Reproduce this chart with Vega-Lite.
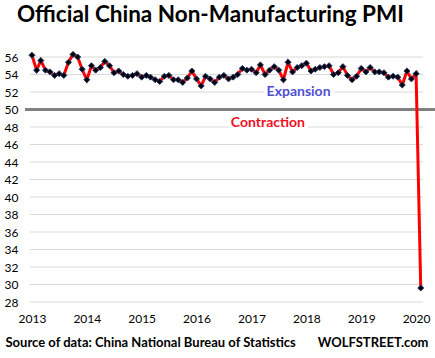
{
  "$schema": "https://vega.github.io/schema/vega-lite/v6.json",
  "width": 393,
  "height": 245,
  "autosize": {"type": "none"},
  "padding": {"left": 30, "top": 57, "right": 12, "bottom": 56},
  "background": "white",
  "config": {
    "view": {"stroke": null},
    "font": "Lato",
    "axis": {"ticks": false, "domain": false, "grid": false, "labelOverlap": false, "labelColor": "#000000", "labelFont": "Lato", "labelFontSize": 12, "titleColor": "#000000", "titleFont": "Lato", "titleFontSize": 13, "titleFontWeight": "bold"},
    "axisY": {"tickCount": 15}
  },
  "title": {"text": "Official China  Non-Manufacturing  PMI", "anchor": "start", "frame": "group", "dx": -13, "offset": 22, "font": "Lato", "fontSize": 22.5, "fontWeight": "bold", "color": "#000000"},
  "datasets": {
    "levels": [{"g": 28}, {"g": 30}, {"g": 32}, {"g": 34}, {"g": 36}, {"g": 38}, {"g": 40}, {"g": 42}, {"g": 44}, {"g": 46}, {"g": 48}, {"g": 52}, {"g": 54}, {"g": 56}],
    "notes": [{"date": "2017-11-10", "value": 52, "label": "Expansion"}, {"date": "2017-04-20", "value": 48.5, "label": "Contraction"}]
  },
  "data": {"values": [
    {"date": "2013-01-01", "pmi": 56.2}, {"date": "2013-02-01", "pmi": 54.5}, {"date": "2013-03-01", "pmi": 55.6}, {"date": "2013-04-01", "pmi": 54.5}, {"date": "2013-05-01", "pmi": 54.3}, {"date": "2013-06-01", "pmi": 53.9}, {"date": "2013-07-01", "pmi": 54.1}, {"date": "2013-08-01", "pmi": 53.9}, {"date": "2013-09-01", "pmi": 55.4}, {"date": "2013-10-01", "pmi": 56.3}, {"date": "2013-11-01", "pmi": 56.0}, {"date": "2013-12-01", "pmi": 54.6},
    {"date": "2014-01-01", "pmi": 53.4}, {"date": "2014-02-01", "pmi": 55.0}, {"date": "2014-03-01", "pmi": 54.5}, {"date": "2014-04-01", "pmi": 54.8}, {"date": "2014-05-01", "pmi": 55.5}, {"date": "2014-06-01", "pmi": 55.0}, {"date": "2014-07-01", "pmi": 54.2}, {"date": "2014-08-01", "pmi": 54.4}, {"date": "2014-09-01", "pmi": 54.0}, {"date": "2014-10-01", "pmi": 53.8}, {"date": "2014-11-01", "pmi": 53.9}, {"date": "2014-12-01", "pmi": 54.1},
    {"date": "2015-01-01", "pmi": 53.7}, {"date": "2015-02-01", "pmi": 53.9}, {"date": "2015-03-01", "pmi": 53.7}, {"date": "2015-04-01", "pmi": 53.4}, {"date": "2015-05-01", "pmi": 53.2}, {"date": "2015-06-01", "pmi": 53.8}, {"date": "2015-07-01", "pmi": 53.9}, {"date": "2015-08-01", "pmi": 53.4}, {"date": "2015-09-01", "pmi": 53.4}, {"date": "2015-10-01", "pmi": 53.1}, {"date": "2015-11-01", "pmi": 53.6}, {"date": "2015-12-01", "pmi": 54.4},
    {"date": "2016-01-01", "pmi": 53.5}, {"date": "2016-02-01", "pmi": 52.7}, {"date": "2016-03-01", "pmi": 53.8}, {"date": "2016-04-01", "pmi": 53.5}, {"date": "2016-05-01", "pmi": 53.1}, {"date": "2016-06-01", "pmi": 53.7}, {"date": "2016-07-01", "pmi": 53.9}, {"date": "2016-08-01", "pmi": 53.5}, {"date": "2016-09-01", "pmi": 53.7}, {"date": "2016-10-01", "pmi": 54.0}, {"date": "2016-11-01", "pmi": 54.7}, {"date": "2016-12-01", "pmi": 54.5},
    {"date": "2017-01-01", "pmi": 54.6}, {"date": "2017-02-01", "pmi": 54.2}, {"date": "2017-03-01", "pmi": 55.1}, {"date": "2017-04-01", "pmi": 54.0}, {"date": "2017-05-01", "pmi": 54.5}, {"date": "2017-06-01", "pmi": 54.9}, {"date": "2017-07-01", "pmi": 54.5}, {"date": "2017-08-01", "pmi": 53.4}, {"date": "2017-09-01", "pmi": 55.4}, {"date": "2017-10-01", "pmi": 54.3}, {"date": "2017-11-01", "pmi": 54.8}, {"date": "2017-12-01", "pmi": 55.0},
    {"date": "2018-01-01", "pmi": 55.3}, {"date": "2018-02-01", "pmi": 54.4}, {"date": "2018-03-01", "pmi": 54.6}, {"date": "2018-04-01", "pmi": 54.8}, {"date": "2018-05-01", "pmi": 54.9}, {"date": "2018-06-01", "pmi": 55.0}, {"date": "2018-07-01", "pmi": 54.0}, {"date": "2018-08-01", "pmi": 54.2}, {"date": "2018-09-01", "pmi": 54.9}, {"date": "2018-10-01", "pmi": 53.9}, {"date": "2018-11-01", "pmi": 53.4}, {"date": "2018-12-01", "pmi": 53.8},
    {"date": "2019-01-01", "pmi": 54.7}, {"date": "2019-02-01", "pmi": 54.3}, {"date": "2019-03-01", "pmi": 54.8}, {"date": "2019-04-01", "pmi": 54.3}, {"date": "2019-05-01", "pmi": 54.3}, {"date": "2019-06-01", "pmi": 54.2}, {"date": "2019-07-01", "pmi": 53.7}, {"date": "2019-08-01", "pmi": 53.8}, {"date": "2019-09-01", "pmi": 53.7}, {"date": "2019-10-01", "pmi": 52.8}, {"date": "2019-11-01", "pmi": 54.4}, {"date": "2019-12-01", "pmi": 53.5},
    {"date": "2020-01-01", "pmi": 54.1}, {"date": "2020-02-01", "pmi": 29.6}
  ]},
  "layer": [
    {
      "mark": {"type": "line", "opacity": 0},
      "encoding": {
        "x": {"field": "date", "type": "temporal", "scale": {"domain": [{"year": 2012, "month": 12, "date": 19}, {"year": 2020, "month": 2, "date": 16}]},
          "axis": {"values": [{"year": 2013, "month": 1, "date": 1}, {"year": 2014, "month": 1, "date": 1}, {"year": 2015, "month": 1, "date": 1}, {"year": 2016, "month": 1, "date": 1}, {"year": 2017, "month": 1, "date": 1}, {"year": 2018, "month": 1, "date": 1}, {"year": 2019, "month": 1, "date": 1}, {"year": 2020, "month": 1, "date": 1}],
            "format": "%Y", "labelPadding": 11, "tickCount": 8,
            "title": "Source of data: China National Bureau of Statistics", "titleAnchor": "start", "titleAlign": "left", "titleX": -25, "titleY": 44, "titleBaseline": "alphabetic"}},
        "y": {"field": "pmi", "type": "quantitative", "scale": {"domain": [28, 56], "nice": false, "zero": false},
          "axis": {"values": [28, 30, 32, 34, 36, 38, 40, 42, 44, 46, 48, 50, 52, 54, 56], "tickCount": 15, "labelPadding": 12, "grid": false,
            "title": "WOLFSTREET.com", "titleAngle": 0, "titleX": 398, "titleY": 289, "titleAlign": "right", "titleBaseline": "alphabetic"}}
      }
    },
    {
      "data": {"name": "levels"},
      "mark": {"type": "rect", "fill": "#d9d9d9", "stroke": "#d9d9d9", "strokeWidth": 1.2},
      "encoding": {
        "x": {"datum": {"year": 2012, "month": 12, "date": 19}, "type": "temporal"},
        "x2": {"datum": {"year": 2020, "month": 2, "date": 16}},
        "y": {"field": "g", "type": "quantitative"},
        "y2": {"field": "g"}
      }
    },
    {
      "mark": {"type": "rect", "fill": "#808080", "stroke": "#808080", "strokeWidth": 3},
      "encoding": {
        "x": {"datum": {"year": 2012, "month": 11, "date": 16}, "type": "temporal"},
        "x2": {"datum": {"year": 2020, "month": 5, "date": 6}},
        "y": {"datum": 50, "type": "quantitative"},
        "y2": {"datum": 50}
      }
    },
    {
      "mark": {"type": "line", "color": "#ff0000", "strokeWidth": 3},
      "encoding": {
        "x": {"field": "date", "type": "temporal"},
        "y": {"field": "pmi", "type": "quantitative"}
      }
    },
    {
      "mark": {"type": "point", "shape": "diamond", "filled": true, "fill": "#000000", "stroke": "#1f3570", "strokeWidth": 1, "opacity": 1, "size": 36},
      "encoding": {
        "x": {"field": "date", "type": "temporal"},
        "y": {"field": "pmi", "type": "quantitative"}
      }
    },
    {
      "data": {"name": "notes"},
      "mark": {"type": "text", "font": "Lato", "fontSize": 14, "fontWeight": "bold", "stroke": "white", "strokeWidth": 8, "fill": "white", "baseline": "middle", "align": "center"},
      "encoding": {
        "x": {"field": "date", "type": "temporal"},
        "y": {"field": "value", "type": "quantitative"},
        "text": {"field": "label"}
      }
    },
    {
      "data": {"name": "notes"},
      "mark": {"type": "text", "font": "Lato", "fontSize": 14, "fontWeight": "bold", "baseline": "middle", "align": "center"},
      "encoding": {
        "x": {"field": "date", "type": "temporal"},
        "y": {"field": "value", "type": "quantitative"},
        "text": {"field": "label"},
        "color": {"field": "label", "type": "nominal", "scale": {"domain": ["Expansion", "Contraction"], "range": ["#4f4fd6", "#ee1122"]}, "legend": null}
      }
    }
  ]
}
